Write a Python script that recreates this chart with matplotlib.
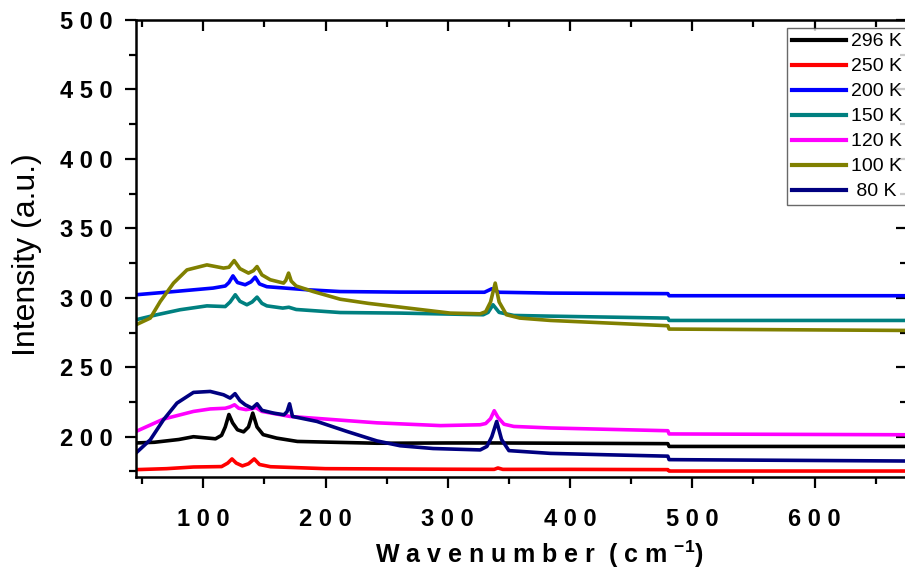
import matplotlib
matplotlib.use('Agg')
import matplotlib.pyplot as plt
from matplotlib.ticker import MultipleLocator, FuncFormatter

plt.rcParams['font.family'] = ['Liberation Sans', 'DejaVu Sans']
plt.rcParams['mathtext.fontset'] = 'custom'
plt.rcParams['mathtext.rm'] = 'Liberation Sans:bold'
plt.rcParams['mathtext.bf'] = 'Liberation Sans:bold'

# Raman spectra, read at key points (wavenumber in cm-1, intensity in a.u.)
x_296 = [45, 60, 80, 92, 110, 115, 118, 121, 124, 128, 133, 137, 140.5, 144, 149, 160, 177, 242, 300, 340, 400, 480, 481, 676]
y_296 = [195.5, 196, 198, 200, 198.5, 201, 207, 216, 210, 205, 203.5, 207, 217, 207, 201.5, 199, 196.6, 195.3, 195.5, 195.5, 195.3, 195, 193, 193]

x_250 = [45, 70, 92, 115, 120, 123.5, 127, 132, 137, 141.7, 146, 155, 200, 300, 338, 341, 345, 400, 480, 481, 676]
y_250 = [176.3, 177, 178.2, 178.5, 181, 184, 181, 179, 180.5, 184, 180, 178.4, 177, 176.6, 176.5, 177.5, 176.5, 176.5, 176.3, 175.3, 175.3]

x_200 = [45, 76, 108, 118, 121, 124.3, 128, 134.3, 139, 142.5, 146, 152, 185, 212, 261, 330, 336, 342, 384, 480, 481, 676]
y_200 = [302.2, 304.5, 307, 308.5, 311, 315.8, 311, 309.4, 311.5, 314.9, 310, 308, 305.8, 304.5, 304.1, 304, 306.5, 304, 303.4, 303, 301.5, 301.5]

x_150 = [45, 62, 81, 103, 118, 122, 126.2, 130, 135.7, 140, 144, 148, 152, 165, 170, 176, 212, 261, 329, 333, 337, 342, 354, 384, 480, 481, 676]
y_150 = [284.2, 287.8, 291.4, 294.2, 293.7, 297, 302.2, 297.5, 295, 297, 300.5, 296, 294.2, 292.6, 293.2, 291.6, 289.4, 289, 287.8, 289.5, 295, 289.5, 287.3, 286.8, 285.4, 283.7, 283.7]

x_120 = [45, 67.5, 92, 105.7, 118, 122, 125.6, 129, 135, 140, 143, 148, 171, 242, 294, 326.5, 331, 335, 338, 341, 346, 354, 384, 480, 481, 676]
y_120 = [203.8, 212.7, 218.2, 220, 220.5, 221.5, 223, 220.5, 219.5, 220.2, 221, 218.2, 214.6, 210, 208, 208.6, 209.5, 213, 218.7, 214, 209, 207.4, 206.3, 204.3, 202, 201.4]

x_100 = [45, 56.7, 64.8, 75.7, 86.7, 103, 116.6, 121, 125.3, 130, 137, 141, 144, 148, 154.8, 165.7, 167.5, 169.8, 172, 176, 190, 212, 235, 261, 302, 326.5, 331, 335, 338.8, 342, 348, 359, 384, 480, 481, 676]
y_100 = [280.6, 285.4, 297.3, 310.6, 320.1, 323.7, 321.4, 322, 326.8, 321, 317.8, 319.5, 322.5, 316.5, 313, 310.6, 312.5, 317.8, 312, 308.5, 304.5, 299, 296, 293.3, 289, 288.5, 290, 297, 310.6, 297, 287.8, 285.4, 283.7, 279.9, 277.5, 276.5]

x_80 = [45, 56.7, 67.5, 78.5, 92, 105.7, 116.6, 122, 126, 130, 134.3, 140, 144, 148, 157.5, 166, 168.5, 170.6, 173, 193, 217.5, 242, 261, 288, 326.5, 332, 336, 340, 344, 350, 384, 430, 480, 481, 676]
y_80 = [188.3, 197.8, 212.2, 224.2, 231.9, 232.6, 230.2, 227.8, 231, 226, 223, 220.5, 223.7, 219, 217, 215.8, 218, 223.7, 214.6, 211, 203.8, 197, 193.5, 191.5, 190.5, 193, 200, 211, 198, 190, 188, 187, 186, 183.5, 182.5]

labels = ['296 K', '250 K', '200 K', '150 K', '120 K', '100 K', ' 80 K']
colors = ['black', '#ff0000', '#0000ff', '#008080', '#ff00ff', '#808000', '#000080']
series = [(x_296, y_296), (x_250, y_250), (x_200, y_200), (x_150, y_150),
          (x_120, y_120), (x_100, y_100), (x_80, y_80)]

fig = plt.figure(figsize=(9.05, 5.75), dpi=100)
# frame runs slightly past the right edge of the canvas
ax = fig.add_axes([136 / 905, 98 / 575, 771 / 905, 457 / 575])

for (xs, ys), lab, c in zip(series, labels, colors):
    ax.plot(xs, ys, color=c, lw=2.6, label=lab)

ax.set_xlim(45, 675.6)
ax.set_ylim(171, 500)

ax.xaxis.set_major_locator(MultipleLocator(100))
ax.xaxis.set_minor_locator(MultipleLocator(50))
ax.yaxis.set_major_locator(MultipleLocator(50))
ax.yaxis.set_minor_locator(MultipleLocator(25))

spaced = FuncFormatter(lambda v, p: ' '.join(str(int(round(v)))))
ax.xaxis.set_major_formatter(spaced)
ax.yaxis.set_major_formatter(spaced)

for s in ax.spines.values():
    s.set_linewidth(1.8)

ax.tick_params(which='both', width=1.6, direction='out', top=False, right=False)
ax.tick_params(which='major', length=8, labelsize=17)
ax.tick_params(which='minor', length=5)
ax.tick_params(axis='y', which='major', pad=9)
ax.tick_params(axis='x', which='major', pad=14)
for lbl in ax.get_xticklabels() + ax.get_yticklabels():
    lbl.set_fontweight('bold')

# inward ticks on the top and right frame
top = ax.secondary_xaxis('top')
top.xaxis.set_major_locator(MultipleLocator(100))
top.xaxis.set_minor_locator(MultipleLocator(50))
top.tick_params(which='both', direction='in', labeltop=False, width=1.6)
top.tick_params(which='major', length=8)
top.tick_params(which='minor', length=5)
right = ax.secondary_yaxis('right')
right.yaxis.set_major_locator(MultipleLocator(50))
right.yaxis.set_minor_locator(MultipleLocator(25))
right.tick_params(which='both', direction='in', labelright=False, width=1.6)
right.tick_params(which='major', length=8)
right.tick_params(which='minor', length=5)

ax.set_xlabel(r'W a v e n u m b e r  ( c m $^{-1}$)', fontsize=18, fontweight='bold')
ax.xaxis.set_label_coords(0.523, -0.135)
ax.set_ylabel('Intensity (a.u.)', fontsize=23)
ax.yaxis.set_label_coords(-0.122, 0.486)

leg = ax.legend(loc='upper left', bbox_to_anchor=(0.8444, 0.9825), fontsize=14,
                frameon=True, fancybox=False, edgecolor='#444444',
                handlelength=2.8, handletextpad=0.26, labelspacing=0.38,
                borderpad=0.25, borderaxespad=0)
leg.get_frame().set_linewidth(1.0)
for h in leg.get_lines():
    h.set_linewidth(3)

fig.savefig('out.png', dpi=100)
